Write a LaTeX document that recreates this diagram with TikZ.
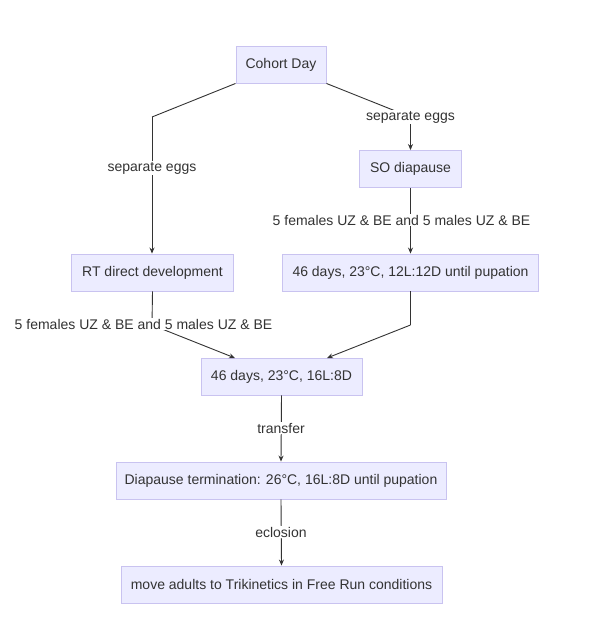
\documentclass[tikz,border=0pt]{standalone}
\usepackage{fontspec}
\setmainfont{Liberation Sans}
\usetikzlibrary{arrows.meta}
\definecolor{boxfill}{HTML}{ECECFF}
\definecolor{boxline}{HTML}{C9C3F0}
\definecolor{ink}{HTML}{333333}
\tikzset{
  box/.style={draw=boxline, fill=boxfill, line width=0.9pt, minimum height=37pt,
    inner sep=0pt, font=\fontsize{14pt}{16pt}\selectfont, text=ink},
  conn/.style={draw=ink, line width=0.9pt},
  arr/.style={conn, -{Stealth[length=6pt,width=5pt]}},
  lbl/.style={fill=white, inner sep=1pt, font=\fontsize{14pt}{16pt}\selectfont, text=ink}
}
\begin{document}
\begin{tikzpicture}[x=1pt,y=-1pt]
\useasboundingbox (0,0) rectangle (610,643);
\fill[white] (0,0) rectangle (610,643);

\node[box, minimum width=90pt] (cohort) at (281,64.5) {Cohort Day};
\node[box, minimum width=102pt] (so) at (410.5,169) {SO diapause};
\node[box, minimum width=162pt] (rt) at (152.5,272.5) {RT direct development};
\node[box, minimum width=256pt] (d12) at (410.5,272.5) {46 days, 23°C, 12L:12D until pupation};
\node[box, minimum width=161pt] (d16) at (281.5,376.5) {46 days, 23°C, 16L:8D};
\node[box, minimum width=330pt] (term) at (281,480.5) {Diapause termination: 26°C, 16L:8D until pupation};
\node[box, minimum width=321pt] (move) at (281.5,584.5) {move adults to Trikinetics in Free Run conditions};

\coordinate (b1) at (152,117);
\coordinate (b2) at (410.5,117);
\coordinate (b3) at (152,325);
\coordinate (b4) at (410.5,325);
\coordinate (t1) at (235,358);
\coordinate (t2) at (327,358);

\draw[conn] (cohort.south west) -- (b1);
\draw[arr] (b1) -- (b1 |- rt.north);
\node[lbl] (l1) at (152,168) {separate eggs};

\draw[conn] (cohort.south east) -- (b2);
\draw[arr] (b2) -- (so.north);
\node[lbl] (l2) at (410.5,117) {separate eggs};

\draw[arr] (so.south) -- (d12.north);
\node[lbl] (l3) at (401.5,220) {5 females UZ \& BE and 5 males UZ \& BE};

\draw[conn] (rt.south) -- (b3);
\draw[arr] (b3) -- (t1);
\node[lbl] (l4) at (143.5,324) {5 females UZ \& BE and 5 males UZ \& BE};

\draw[conn] (d12.south) -- (b4);
\draw[arr] (b4) -- (t2);

\draw[arr] (d16.south) -- (term.north);
\node[lbl] (l5) at (281,428) {transfer};

\draw[arr] (term.south) -- (move.north);
\node[lbl] (l6) at (281,532) {eclosion};
\end{tikzpicture}
\end{document}
